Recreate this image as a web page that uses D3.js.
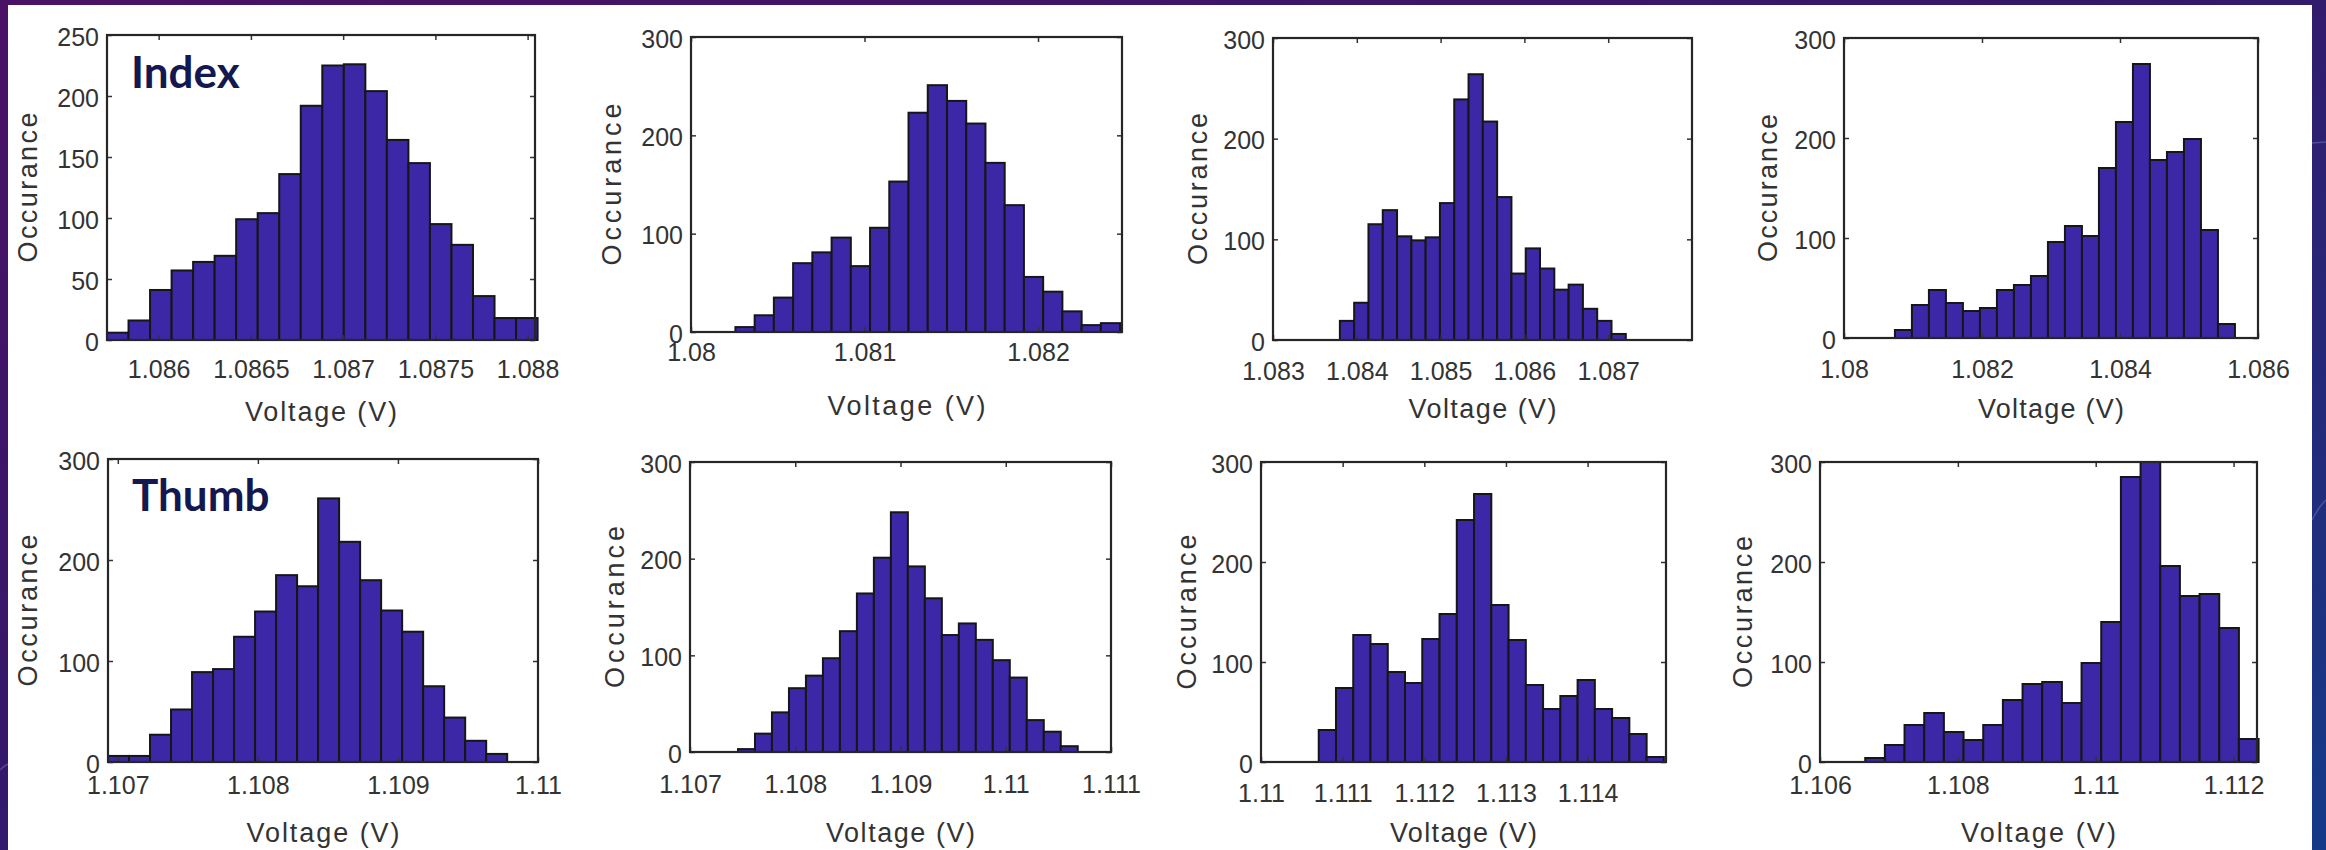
<!DOCTYPE html>
<html>
<head>
<meta charset="utf-8">
<script src="https://cdn.jsdelivr.net/npm/d3@7/dist/d3.min.js"></script>
<style>
  html, body { margin: 0; padding: 0; background: #2a1d68; overflow: hidden; }
  svg { display: block; }
</style>
</head>
<body>
<svg id="chart" width="2326" height="850"></svg>
<script>
// Histogram counts per bin (20 bins each), finger sensor voltage readings
const indexA = [6, 16, 41, 57, 64, 69, 99, 104, 136, 192, 225, 226, 204, 164, 145, 95, 78, 36, 18, 18];
const indexB = [5, 17, 35, 70, 81, 96, 67, 106, 153, 223, 251, 235, 212, 172, 129, 56, 41, 21, 7, 9];
const indexC = [19, 37, 115, 129, 103, 99, 102, 136, 239, 264, 217, 142, 66, 91, 71, 50, 55, 31, 19, 6];
const indexD = [8, 33, 48, 35, 27, 30, 48, 53, 62, 96, 112, 102, 170, 216, 274, 178, 186, 199, 108, 14];
const thumbA = [6, 6, 27, 52, 89, 92, 124, 149, 185, 174, 261, 218, 180, 150, 129, 75, 44, 21, 8, 0];
const thumbB = [3, 19, 41, 66, 79, 97, 125, 164, 201, 248, 192, 159, 121, 133, 116, 95, 77, 33, 21, 6];
const thumbC = [32, 74, 127, 118, 90, 79, 123, 148, 242, 268, 157, 122, 77, 53, 66, 82, 53, 44, 28, 5];
const thumbD = [4, 17, 37, 49, 30, 22, 37, 62, 78, 80, 59, 99, 140, 285, 300, 196, 166, 168, 134, 23];

// Histogram bin range [first edge, last edge] in volts
const indexABins = [1.08572, 1.088054];
const indexBBins = [1.080256, 1.082473];
const indexCBins = [1.083798, 1.08721];
const indexDBins = [1.080738, 1.085666];
const thumbABins = [1.10693, 1.10993];
const thumbBBins = [1.107456, 1.110684];
const thumbCBins = [1.110707, 1.114934];
const thumbDBins = [1.106656, 1.112363];

// Axis ranges in volts
const indexARange = [1.08572, 1.08804];
const indexBRange = [1.08, 1.082484];
const indexCRange = [1.083, 1.088];
const indexDRange = [1.08, 1.086];
const thumbARange = [1.10693, 1.11];
const thumbBRange = [1.107, 1.111];
const thumbCRange = [1.11, 1.11496];
const thumbDRange = [1.106, 1.11234];

// Tick labels
const indexATicks = ["1.086", "1.0865", "1.087", "1.0875", "1.088"];
const indexBTicks = ["1.08", "1.081", "1.082"];
const indexCTicks = ["1.083", "1.084", "1.085", "1.086", "1.087"];
const indexDTicks = ["1.08", "1.082", "1.084", "1.086"];
const thumbATicks = ["1.107", "1.108", "1.109", "1.11"];
const thumbBTicks = ["1.107", "1.108", "1.109", "1.11", "1.111"];
const thumbCTicks = ["1.11", "1.111", "1.112", "1.113", "1.114"];
const thumbDTicks = ["1.106", "1.108", "1.11", "1.112"];
const countTicks250 = [0, 50, 100, 150, 200, 250];
const countTicks300 = [0, 100, 200, 300];

const xLabelText = "Voltage (V)";
const yLabelText = "Occurance";

// Panel placement: box = [left, top, right, bottom]
const panels = [
  { counts: indexA, bins: indexABins, range: indexARange, xTicks: indexATicks, yTicks: countTicks250, yMax: 250,
    box: [107, 35, 535, 340], xTickBase: 38, xLabelBase: 421, yLabelX: 37, xLabelLen: 152, yLabelLen: 150, title: "Index" },
  { counts: indexB, bins: indexBBins, range: indexBRange, xTicks: indexBTicks, yTicks: countTicks300, yMax: 300,
    box: [691, 37, 1122, 332], xTickBase: 29, xLabelBase: 415, yLabelX: 621, xLabelLen: 158, yLabelLen: 162 },
  { counts: indexC, bins: indexCBins, range: indexCRange, xTicks: indexCTicks, yTicks: countTicks300, yMax: 300,
    box: [1273, 38, 1692, 340], xTickBase: 40, xLabelBase: 418, yLabelX: 1207, xLabelLen: 148, yLabelLen: 152 },
  { counts: indexD, bins: indexDBins, range: indexDRange, xTicks: indexDTicks, yTicks: countTicks300, yMax: 300,
    box: [1844, 38, 2258, 338], xTickBase: 40, xLabelBase: 418, yLabelX: 1777, xLabelLen: 146, yLabelLen: 148 },
  { counts: thumbA, bins: thumbABins, range: thumbARange, xTicks: thumbATicks, yTicks: countTicks300, yMax: 300,
    box: [108, 459, 538, 762], xTickBase: 32, xLabelBase: 842, yLabelX: 37, xLabelLen: 153, yLabelLen: 152, title: "Thumb" },
  { counts: thumbB, bins: thumbBBins, range: thumbBRange, xTicks: thumbBTicks, yTicks: countTicks300, yMax: 300,
    box: [690, 462, 1111, 752], xTickBase: 41, xLabelBase: 842, yLabelX: 624, xLabelLen: 149, yLabelLen: 162 },
  { counts: thumbC, bins: thumbCBins, range: thumbCRange, xTicks: thumbCTicks, yTicks: countTicks300, yMax: 300,
    box: [1261, 462, 1666, 762], xTickBase: 40, xLabelBase: 842, yLabelX: 1196, xLabelLen: 147, yLabelLen: 155 },
  { counts: thumbD, bins: thumbDBins, range: thumbDRange, xTicks: thumbDTicks, yTicks: countTicks300, yMax: 300,
    box: [1820, 462, 2257, 762], xTickBase: 32, xLabelBase: 842, yLabelX: 1752, xLabelLen: 155, yLabelLen: 152 }
];

const svg = d3.select("#chart");
const W = 2326, H = 850;

// Slide background
const defs = svg.append("defs");
const grad = defs.append("linearGradient").attr("id", "bg")
  .attr("x1", "0").attr("y1", "0").attr("x2", "1").attr("y2", "1");
grad.append("stop").attr("offset", "0").attr("stop-color", "#4a1266");
grad.append("stop").attr("offset", "0.45").attr("stop-color", "#35186a");
grad.append("stop").attr("offset", "1").attr("stop-color", "#143a88");
svg.append("rect").attr("width", W).attr("height", H).attr("fill", "url(#bg)");

// faint decorative strokes on the slide edge
svg.append("line").attr("x1", 2312).attr("x2", 2326).attr("y1", 143).attr("y2", 142)
  .attr("stroke", "#8aa6e0").attr("stroke-opacity", 0.35).attr("stroke-width", 1.5);
svg.append("path").attr("d", "M2312,520 Q2320,505 2326,500")
  .attr("fill", "none").attr("stroke", "#9bb2e6").attr("stroke-opacity", 0.3).attr("stroke-width", 1.5);
svg.append("path").attr("d", "M0,770 Q4,766 8,764")
  .attr("fill", "none").attr("stroke", "#9bb2e6").attr("stroke-opacity", 0.3).attr("stroke-width", 1.5);

// White figure area
svg.append("rect").attr("x", 8).attr("y", 5).attr("width", 2304).attr("height", 845).attr("fill", "#ffffff");

const tickColor = "#333333";
const tickFont = "'Liberation Sans', Arial, Helvetica, sans-serif";

panels.forEach(p => {
  const [L, T, R, B] = p.box;
  const x = d3.scaleLinear().domain(p.range).range([L, R]);
  const y = d3.scaleLinear().domain([0, p.yMax]).range([B, T]);
  const g = svg.append("g");

  // bins
  const n = p.counts.length;
  const step = (p.bins[1] - p.bins[0]) / n;
  const bars = p.counts.map((c, i) => ({ x0: p.bins[0] + i * step, x1: p.bins[0] + (i + 1) * step, count: c }));

  g.append("g").selectAll("rect").data(bars.filter(d => d.count > 0)).join("rect")
    .attr("x", d => x(d.x0))
    .attr("width", d => x(d.x1) - x(d.x0))
    .attr("y", d => y(d.count))
    .attr("height", d => y(0) - y(d.count))
    .attr("fill", "#3c28a6")
    .attr("stroke", "#161616")
    .attr("stroke-width", 2);

  const xVals = p.xTicks.map(Number);

  // bottom axis (ticks inward)
  const gb = g.append("g").attr("transform", `translate(0,${B})`)
    .call(d3.axisBottom(x).tickValues(xVals).tickSize(-5).tickFormat((d, i) => p.xTicks[i]));
  gb.select(".domain").remove();
  gb.selectAll(".tick line").attr("stroke", tickColor).attr("stroke-width", 1.5);
  gb.selectAll(".tick text").attr("y", p.xTickBase).attr("dy", 0)
    .attr("fill", tickColor).style("font-family", tickFont).style("font-size", "25px");

  // top axis ticks
  const gt = g.append("g").attr("transform", `translate(0,${T})`)
    .call(d3.axisTop(x).tickValues(xVals).tickSize(-5).tickFormat(""));
  gt.select(".domain").remove();
  gt.selectAll(".tick line").attr("stroke", tickColor).attr("stroke-width", 1.5);

  // left axis
  const gl = g.append("g").attr("transform", `translate(${L},0)`)
    .call(d3.axisLeft(y).tickValues(p.yTicks).tickSize(-5).tickFormat(d3.format("d")));
  gl.select(".domain").remove();
  gl.selectAll(".tick line").attr("stroke", tickColor).attr("stroke-width", 1.5);
  gl.selectAll(".tick text").attr("x", -8).attr("dy", "0.4em")
    .attr("fill", tickColor).style("font-family", tickFont).style("font-size", "25px");

  // right axis ticks
  const gr = g.append("g").attr("transform", `translate(${R},0)`)
    .call(d3.axisRight(y).tickValues(p.yTicks).tickSize(-5).tickFormat(""));
  gr.select(".domain").remove();
  gr.selectAll(".tick line").attr("stroke", tickColor).attr("stroke-width", 1.5);

  // axes box
  g.append("rect").attr("x", L).attr("y", T).attr("width", R - L).attr("height", B - T)
    .attr("fill", "none").attr("stroke", "#262626").attr("stroke-width", 2.2);

  // axis labels
  g.append("text")
    .attr("x", (L + R) / 2).attr("y", p.xLabelBase)
    .attr("text-anchor", "middle")
    .attr("textLength", p.xLabelLen).attr("lengthAdjust", "spacing")
    .attr("fill", tickColor).style("font-family", tickFont).style("font-size", "27px")
    .text(xLabelText);

  g.append("text")
    .attr("transform", `translate(${p.yLabelX},${(T + B) / 2}) rotate(-90)`)
    .attr("text-anchor", "middle")
    .attr("textLength", p.yLabelLen).attr("lengthAdjust", "spacing")
    .attr("fill", tickColor).style("font-family", tickFont).style("font-size", "27px")
    .text(yLabelText);

  if (p.title) {
    g.append("text")
      .attr("x", L + 24).attr("y", T + (p.title === "Index" ? 53 : 52))
      .attr("fill", "#141850")
      .style("font-family", "Lato, 'Open Sans', sans-serif")
      .style("font-weight", "bold").style("font-size", "44px")
      .text(p.title);
  }
});
</script>
</body>
</html>
